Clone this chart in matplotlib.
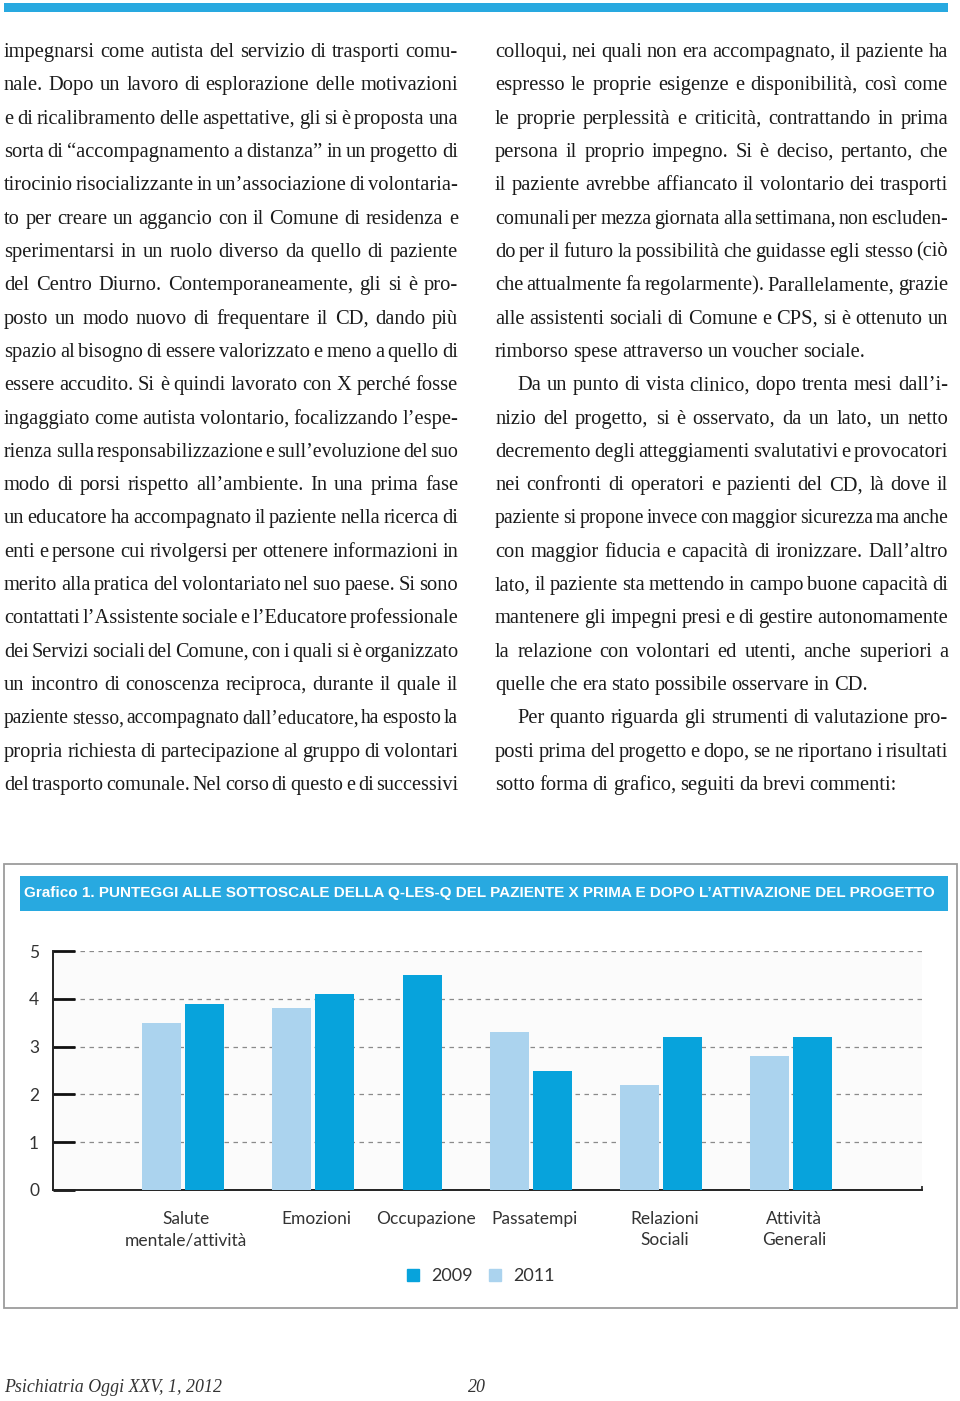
import numpy as np
import matplotlib
matplotlib.use("Agg")
import matplotlib.pyplot as plt
import matplotlib.patches as mpatches
from matplotlib import font_manager

# ============================================================
# DATI
# ============================================================

categories = [
    "Salute\nmentale/attività", "Emozioni", "Occupazione",
    "Passatempi", "Relazioni\nSociali", "Attività\nGenerali",
]
scores_2009 = [3.9, 4.1, 4.5, 2.5, 3.2, 3.2]
scores_2011 = [3.5, 3.8, np.nan, 3.3, 2.2, 2.8]   # Occupazione 2011 assente
series_labels = ["2009", "2011"]
y_ticks = [0, 1, 2, 3, 4, 5]

chart_title = ("Grafico 1. PUNTEGGI ALLE SOTTOSCALE DELLA Q-LES-Q DEL PAZIENTE X "
               "PRIMA E DOPO L\u2019ATTIVAZIONE DEL PROGETTO")
footer_left = "Psichiatria Oggi XXV, 1, 2012"
footer_page = "20"

left_lines = [
    "impegnarsi come autista del servizio di trasporti comu-",
    "nale. Dopo un lavoro di esplorazione delle motivazioni",
    "e di ricalibramento delle aspettative, gli si è proposta una",
    "sorta di “accompagnamento a distanza” in un progetto di",
    "tirocinio risocializzante in un’associazione di volontaria-",
    "to per creare un aggancio con il Comune di residenza e",
    "sperimentarsi in un ruolo diverso da quello di paziente",
    "del Centro Diurno. Contemporaneamente, gli si è pro-",
    "posto un modo nuovo di frequentare il CD, dando più",
    "spazio al bisogno di essere valorizzato e meno a quello di",
    "essere accudito. Si è quindi lavorato con X perché fosse",
    "ingaggiato come autista volontario, focalizzando l’espe-",
    "rienza sulla responsabilizzazione e sull’evoluzione del suo",
    "modo di porsi rispetto all’ambiente. In una prima fase",
    "un educatore ha accompagnato il paziente nella ricerca di",
    "enti e persone cui rivolgersi per ottenere informazioni in",
    "merito alla pratica del volontariato nel suo paese. Si sono",
    "contattati l’Assistente sociale e l’Educatore professionale",
    "dei Servizi sociali del Comune, con i quali si è organizzato",
    "un incontro di conoscenza reciproca, durante il quale il",
    "paziente stesso, accompagnato dall’educatore, ha esposto la",
    "propria richiesta di partecipazione al gruppo di volontari",
    "del trasporto comunale. Nel corso di questo e di successivi",
]

right_lines = [
    "colloqui, nei quali non era accompagnato, il paziente ha",
    "espresso le proprie esigenze e disponibilità, così come",
    "le proprie perplessità e criticità, contrattando in prima",
    "persona il proprio impegno. Si è deciso, pertanto, che",
    "il paziente avrebbe affiancato il volontario dei trasporti",
    "comunali per mezza giornata alla settimana, non escluden-",
    "do per il futuro la possibilità che guidasse egli stesso (ciò",
    "che attualmente fa regolarmente). Parallelamente, grazie",
    "alle assistenti sociali di Comune e CPS, si è ottenuto un",
    "rimborso spese attraverso un voucher sociale.",
    "Da un punto di vista clinico, dopo trenta mesi dall’i-",
    "nizio del progetto, si è osservato, da un lato, un netto",
    "decremento degli atteggiamenti svalutativi e provocatori",
    "nei confronti di operatori e pazienti del CD, là dove il",
    "paziente si propone invece con maggior sicurezza ma anche",
    "con maggior fiducia e capacità di ironizzare. Dall’altro",
    "lato, il paziente sta mettendo in campo buone capacità di",
    "mantenere gli impegni presi e di gestire autonomamente",
    "la relazione con volontari ed utenti, anche superiori a",
    "quelle che era stato possibile osservare in CD.",
    "Per quanto riguarda gli strumenti di valutazione pro-",
    "posti prima del progetto e dopo, se ne riportano i risultati",
    "sotto forma di grafico, seguiti da brevi commenti:",
]
right_par_end = {9, 19, 22}
right_indent = {10, 20}

# ============================================================
# STILE
# ============================================================

BLUE_BAR = "#28A9E0"
DARK = "#07A3DC"
LIGHT = "#ABD3EE"
TEXT = "#1b1b1b"

W, H = 960, 1401

names = {f.name for f in font_manager.fontManager.ttflist}
NARROW = "Liberation Sans Narrow" if "Liberation Sans Narrow" in names else "Liberation Sans"
SANS = "Lato" if "Lato" in names else "DejaVu Sans"


def fx(px):
    return px / W


def fy(py):
    return 1 - py / H


fig = plt.figure(figsize=(W / 100, H / 100), dpi=100)
fig.patch.set_facecolor("white")
renderer = fig.canvas.get_renderer()


def text_width(s, **kw):
    t = fig.text(0, 0, s, **kw)
    w = t.get_window_extent(renderer).width
    t.remove()
    return w


# barra blu in alto
fig.add_artist(mpatches.Rectangle((fx(4), fy(12)), 944 / W, 9 / H,
                                  transform=fig.transFigure, color=BLUE_BAR, lw=0))

# ============================================================
# TESTO A DUE COLONNE (giustificato)
# ============================================================

BODY_SIZE = 14.8
MIN_GAP = 0.6   # frazione dello spazio normale


def draw_column(lines, x0, col_w, par_end, indent, y0=57, step=33.32):
    for i, line in enumerate(lines):
        words = line.split()
        ind = 22 if i in indent else 0
        avail = col_w - ind
        kw = dict(family="Liberation Serif", fontsize=BODY_SIZE, color=TEXT)
        sp = text_width("n n", **kw) - text_width("nn", **kw)
        ws = [text_width(w, **kw) for w in words]
        need = sum(ws) + MIN_GAP * sp * (len(words) - 1)
        if i not in par_end and need > avail:
            # riga troppo lunga: si riduce un poco il corpo
            k = avail / need
            kw["fontsize"] = BODY_SIZE * k
            sp *= k
            ws = [w * k for w in ws]
        if i in par_end or len(words) < 2:
            gap = sp * 0.85
        else:
            gap = (avail - sum(ws)) / (len(words) - 1)
        x = x0 + ind
        y = y0 + i * step
        for w, wd in zip(words, ws):
            fig.text(fx(x), fy(y), w, ha="left", va="baseline", **kw)
            x += wd + gap


draw_column(left_lines, 4, 454, set(), set())
draw_column(right_lines, 495, 453, right_par_end, right_indent)

# ============================================================
# RIQUADRO DEL GRAFICO
# ============================================================

fig.add_artist(mpatches.Rectangle((fx(4), fy(1308)), 953 / W, 444 / H,
                                  transform=fig.transFigure, fill=False,
                                  edgecolor="#9c9c9c", lw=1.3))
fig.add_artist(mpatches.Rectangle((fx(20), fy(911)), 928 / W, 35 / H,
                                  transform=fig.transFigure, color=BLUE_BAR, lw=0))

title_kw = dict(family=NARROW, fontsize=12, weight="bold", color="white")
title_kw["fontsize"] = 12 * 910 / text_width(chart_title, **title_kw)
fig.text(fx(24), fy(893.5), chart_title, ha="left", va="center", **title_kw)

# ============================================================
# GRAFICO A BARRE
# ============================================================

ax = fig.add_axes([fx(53), fy(1190), (922 - 53) / W, (1190 - 951) / H])
ax.set_facecolor("#fbfbfb")

group_x = [0, 1, 1.842, 2.677, 3.677, 4.677]
bar_w = 0.30
offset = 0.165

for gx, v09, v11 in zip(group_x, scores_2009, scores_2011):
    if np.isnan(v11):
        ax.bar(gx, v09, width=bar_w, color=DARK, zorder=3)
    else:
        ax.bar(gx - offset, v11, width=bar_w, color=LIGHT, zorder=3)
        ax.bar(gx + offset, v09, width=bar_w, color=DARK, zorder=3)

ax.set_xlim(-1.0, 5.685)
ax.set_ylim(0, 5)
ax.set_yticks(y_ticks)
ax.yaxis.grid(True, linestyle=(0, (3.6, 3.6)), color="#8a8a8a", lw=0.9, zorder=0)
ax.set_axisbelow(True)

for s in ["top", "right"]:
    ax.spines[s].set_visible(False)
for s in ["left", "bottom"]:
    ax.spines[s].set_color("#222222")
    ax.spines[s].set_linewidth(1.4)

ax.tick_params(axis="y", direction="in", length=16, width=2, color="#111111",
               pad=10, labelsize=12.5, labelcolor="#333333")
ax.set_xticks([g + 0.025 for g in group_x])
ax.set_xticklabels(categories, fontsize=12.5, color="#333333", linespacing=1.4,
                   family=SANS)
ax.tick_params(axis="x", length=0, pad=15)
ax.set_xticks([5.685], minor=True)
ax.tick_params(axis="x", which="minor", direction="in", length=3, width=1.2,
               color="#222222")
for lbl in ax.get_yticklabels():
    lbl.set_family(SANS)

handles = [mpatches.Patch(color=DARK, label=series_labels[0]),
           mpatches.Patch(color=LIGHT, label=series_labels[1])]
leg = ax.legend(handles=handles, loc="center", bbox_to_anchor=(fx(481), fy(1276)),
                bbox_transform=fig.transFigure, ncol=2, frameon=False,
                handlelength=0.65, handleheight=0.65, handletextpad=0.7,
                columnspacing=0.9, prop={"family": SANS, "size": 13})
for t in leg.get_texts():
    t.set_color("#333333")

# ============================================================
# PIÈ DI PAGINA
# ============================================================

foot = dict(family="Liberation Serif", style="italic", fontsize=13, color="#333333")
foot["fontsize"] = 13 * 217 / text_width(footer_left, **foot)
fig.text(fx(4), fy(1392), footer_left, ha="left", va="baseline", **foot)
fig.text(fx(468), fy(1392), footer_page, ha="left", va="baseline", **foot)

fig.savefig("out.png", dpi=100, facecolor="white")
